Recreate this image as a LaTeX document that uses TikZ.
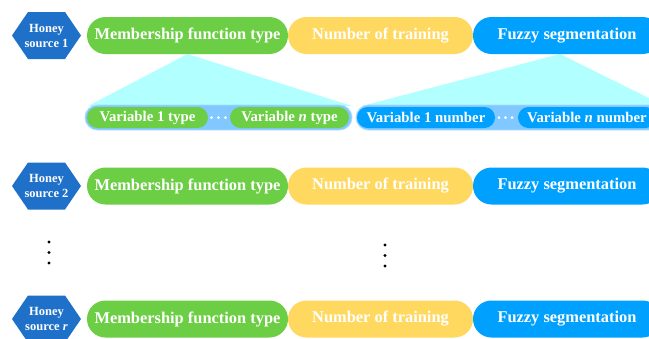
\documentclass[tikz,border=0pt]{standalone}
\usepackage{fontspec}
\setmainfont{Liberation Serif}
\usetikzlibrary{shapes.misc}
\definecolor{hexblue}{RGB}{30,112,200}
\definecolor{pgreen}{RGB}{108,206,68}
\definecolor{pyellow}{RGB}{255,216,96}
\definecolor{pblue}{RGB}{0,160,255}
\definecolor{bandblue}{RGB}{128,200,255}
\definecolor{bandedge}{RGB}{170,220,255}
\definecolor{tricyan}{RGB}{178,255,255}
\tikzset{
  mainpill/.style={rounded rectangle, minimum height=37pt, inner sep=0pt, text=white,
    font=\bfseries\fontsize{16.4}{19}\selectfont},
  smallpill/.style={rounded rectangle, minimum height=21pt, inner sep=0pt, text=white,
    font=\bfseries\fontsize{14.8}{17}\selectfont},
  hextext/.style={align=center, text=white, inner sep=0pt,
    font=\bfseries\fontsize{12.5}{15}\selectfont},
  bandbox/.style={rounded rectangle, minimum height=25pt, inner sep=0pt, fill=bandblue, draw=bandedge, line width=0.8pt},
  wdot/.style={circle, fill=white, inner sep=0pt, minimum size=3pt},
  bdot/.style={circle, fill=black, inner sep=0pt, minimum size=3.2pt},
}
\begin{document}
\begin{tikzpicture}[x=1pt,y=-1pt]
\clip (0,0) rectangle (649,338);
\fill[white] (0,0) rectangle (649,338);
% hexagons
\foreach \yy in {35.5,186,319}{
  \fill[hexblue] (12,\yy) -- (28,\yy-23.5) -- (65,\yy-23.5) -- (81,\yy) -- (65,\yy+23.5) -- (28,\yy+23.5) -- cycle;
}
\node[hextext] (h1) at (46.5,35.5) {Honey\\source 1};
\node[hextext] (h2) at (46.5,186) {Honey\\source 2};
\node[hextext] (h3) at (46.5,319) {Honey\\source \textit{r}};
% coordinates for triangles
\coordinate (ga) at (187.5,54);
\coordinate (gl) at (88,106);
\coordinate (gr) at (352,106);
\coordinate (ba) at (560,54);
\coordinate (bl) at (362,106);
\coordinate (br) at (665,106);
\fill[tricyan] (ga) -- (gl) -- (gr) -- cycle;
\fill[tricyan] (ba) -- (bl) -- (br) -- cycle;
% bands
\node[bandbox, minimum width=267pt] (band1) at (218.5,117.5) {};
\node[bandbox, minimum width=310pt] (band2) at (511,117.5) {};
% small pills
\node[smallpill, fill=pgreen, minimum width=121pt] (v1) at (147.5,117.5) {Variable 1 type};
\node[smallpill, fill=pgreen, minimum width=119pt] (vn) at (289.5,117.5) {Variable \textit{n} type};
\node[smallpill, fill=pblue, minimum width=138pt] (w1) at (426,117.5) {Variable 1 number};
\node[smallpill, fill=pblue, minimum width=138pt] (wn) at (587,117.5) {Variable \textit{n} number};
\foreach \xx in {211.5,218.5,225.5}{\node[wdot] at (\xx,117.5) {};}
\foreach \xx in {499,505.5,512}{\node[wdot] at (\xx,117.5) {};}
% main pills
\foreach \yy/\r in {35.5/1,186/2,319/3}{
  \node[mainpill, fill=pgreen, minimum width=201pt] (m\r) at (187.5,\yy) {Membership function type};
  \node[mainpill, fill=pyellow, minimum width=185pt] (n\r) at (380.5,\yy) {Number of training};
  \node[mainpill, fill=pblue, minimum width=188pt] (f\r) at (567,\yy) {Fuzzy segmentation};
}
% vertical dots
\foreach \yy in {242,252.5,263}{\node[bdot] at (49,\yy) {};}
\foreach \yy in {245,255.5,266}{\node[bdot] at (385,\yy) {};}
\end{tikzpicture}
\end{document}
